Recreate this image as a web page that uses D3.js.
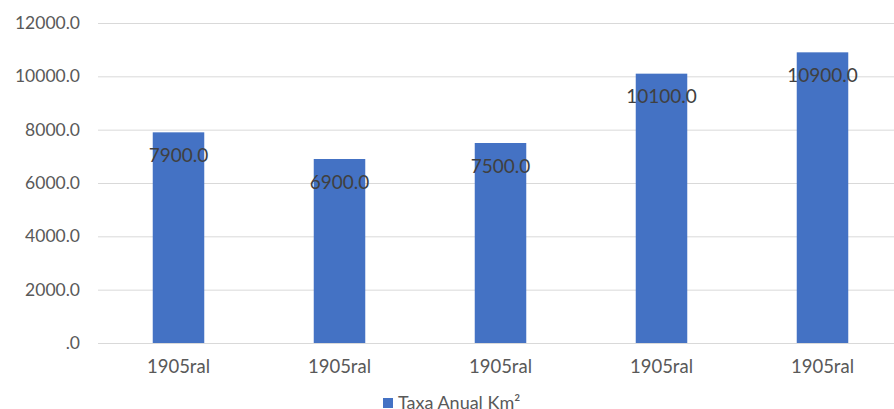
<!DOCTYPE html>
<html>
<head>
<meta charset="utf-8">
<script src="https://cdn.jsdelivr.net/npm/d3@7"></script>
<style>
  body { margin: 0; background: #fff; }
  svg { display: block; font-family: Lato, "Open Sans", sans-serif; }
</style>
</head>
<body>
<div id="chart"></div>
<script>
const width = 894;
const height = 409;

// chart data
const categories = ["1905ral", "1905ral", "1905ral", "1905ral", "1905ral"];
const values = [7900, 6900, 7500, 10100, 10900];
const yTicks = [0, 2000, 4000, 6000, 8000, 10000, 12000];
const seriesName = "Taxa Anual Km²";

const margin = { top: 23, right: -9, bottom: 66, left: 98 };

const svg = d3.select("#chart").append("svg")
    .attr("width", width)
    .attr("height", height);

const x = d3.scaleBand()
    .domain(d3.range(categories.length))
    .range([margin.left, width - margin.right])
    .paddingInner(0.68)
    .paddingOuter(0.34);

const y = d3.scaleLinear()
    .domain([0, 12000])
    .range([height - margin.bottom, margin.top]);

const fmt = v => v === 0 ? ".0" : d3.format(".1f")(v);

// gridlines
svg.append("g")
    .selectAll("line")
    .data(yTicks)
    .join("line")
    .attr("x1", margin.left)
    .attr("x2", width - margin.right)
    .attr("y1", d => y(d) + 0.5)
    .attr("y2", d => y(d) + 0.5)
    .attr("stroke", "#d9d9d9")
    .attr("stroke-width", 1);

// y axis labels
svg.append("g")
    .selectAll("text")
    .data(yTicks)
    .join("text")
    .attr("x", 80)
    .attr("y", d => y(d))
    .attr("dy", "0.35em")
    .attr("text-anchor", "end")
    .attr("fill", "#595959")
    .attr("font-size", 17.5)
    .text(fmt);

// bars
svg.append("g")
    .selectAll("rect")
    .data(values)
    .join("rect")
    .attr("x", (d, i) => x(i))
    .attr("y", d => y(d))
    .attr("width", x.bandwidth())
    .attr("height", d => y(0) - y(d))
    .attr("fill", "#4472c4");

// value labels
svg.append("g")
    .selectAll("text")
    .data(values)
    .join("text")
    .attr("x", (d, i) => x(i) + x.bandwidth() / 2)
    .attr("y", d => y(d) + 23)
    .attr("dy", "0.35em")
    .attr("text-anchor", "middle")
    .attr("fill", "#404040")
    .attr("font-size", 19)
    .text(d => d3.format(".1f")(d));

// category labels
const xBand = d3.scaleBand()
    .domain(d3.range(categories.length))
    .range([margin.left, width - margin.right]);
svg.append("g")
    .selectAll("text")
    .data(categories)
    .join("text")
    .attr("x", (d, i) => xBand(i) + xBand.bandwidth() / 2)
    .attr("y", 367)
    .attr("dy", "0.35em")
    .attr("text-anchor", "middle")
    .attr("fill", "#595959")
    .attr("font-size", 18.5)
    .text(d => d);

// legend
const legend = svg.append("g").attr("transform", "translate(383,403)");
legend.append("rect")
    .attr("x", 0)
    .attr("y", -5)
    .attr("width", 10)
    .attr("height", 10)
    .attr("fill", "#4472c4");
legend.append("text")
    .attr("x", 15)
    .attr("y", 0)
    .attr("dy", "0.35em")
    .attr("fill", "#595959")
    .attr("font-size", 18)
    .text(seriesName);
</script>
</body>
</html>
